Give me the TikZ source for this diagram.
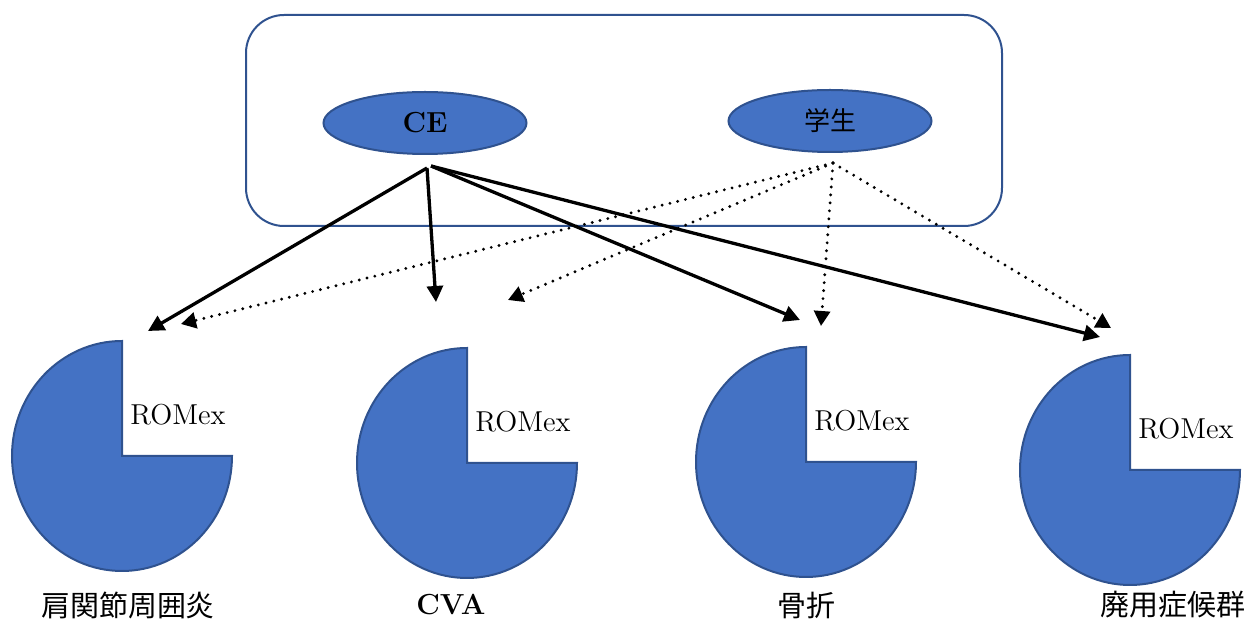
\documentclass[tikz,border=0pt]{standalone}
\usepackage{fontspec}
\newfontfamily\jpfont{Noto Sans CJK JP}
\usetikzlibrary{shapes.geometric,arrows.meta}
\definecolor{pieblue}{HTML}{4472C4}
\definecolor{pieline}{HTML}{2F528F}
\tikzset{
	blob/.style={ellipse,draw=pieline,fill=pieblue,line width=1pt,minimum width=101.5pt,minimum height=31pt,inner sep=0pt},
	pie/.style={draw=pieline,fill=pieblue,line width=1pt},
	solidarrow/.style={line width=1.65pt,-{Triangle[length=8pt,width=8pt]}},
	dotarrow/.style={line width=1.6pt,line cap=round,dash pattern=on 0pt off 4pt,-{Triangle[length=7.5pt,width=8pt]}},
}
\begin{document}
\begin{tikzpicture}[x=0.5pt,y=0.5pt]
		\useasboundingbox (0,0) rectangle (1249,-619);

		% frame with the two groups
		\node[draw=pieline,line width=1pt,rounded corners=19pt,minimum width=378pt,minimum height=105.5pt] (frame) at (624,-120.5) {};
		\node[blob,font=\fontsize{14.5}{17}\selectfont\bfseries] (ce) at (425,-123) {CE};
		\node[blob,font=\fontsize{13}{15}\selectfont\jpfont] (st) at (830,-121) {学生};
		\coordinate (ceout) at (427,-168);
		\coordinate (ceout2) at (431,-166);
		\coordinate (stout) at (833,-163);

		% pies
		\foreach \n/\cx/\cy in {a/122/456, b/467/463, c/806/462, d/1130/470} {
			\draw[pie] (\cx,-\cy) -- ++(0,115) arc[start angle=90,end angle=360,x radius=110,y radius=115] -- cycle;
			\node[anchor=base west,inner sep=0pt,font=\fontsize{14.4}{17}\selectfont] (rom\n) at (\cx+8,-\cy+31) {ROMex};
		}

		% disease names
		\foreach \n/\lx/\txt in {a/128/{\jpfont 肩関節周囲炎}, b/451/{\bfseries CVA}, c/806/{\jpfont 骨折}, d/1173/{\jpfont 廃用症候群}} {
			\node[inner sep=0pt,font=\fontsize{14.5}{17}\selectfont] (lab\n) at (\lx,-605) {\txt};
		}

		% arrow ends
		\coordinate (ca) at (148,-331);
		\coordinate (cb) at (436,-302);
		\coordinate (cc) at (800,-320);
		\coordinate (cd) at (1100,-337);
		\coordinate (sa) at (181,-324);
		\coordinate (sb) at (508,-300);
		\coordinate (sc) at (821,-326);
		\coordinate (sd) at (1111,-328);

		\draw[solidarrow] (ceout) -- (ca);
		\draw[solidarrow] (ceout) -- (cb);
		\draw[solidarrow] (ceout2) -- (cc);
		\draw[solidarrow] (ceout2) -- (cd);
		\foreach \t in {sa,sb,sc,sd}
			\draw[dotarrow] (stout) -- (\t);
	\end{tikzpicture}
\end{document}
